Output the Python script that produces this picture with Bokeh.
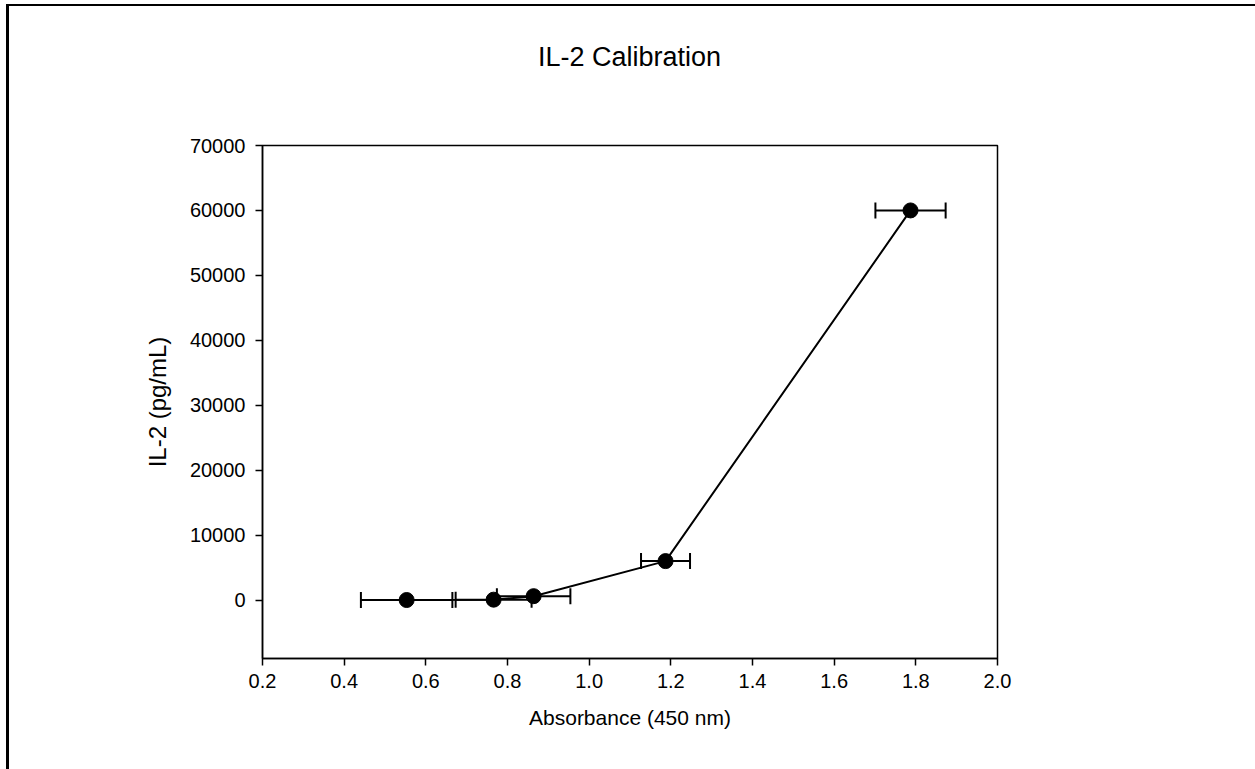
from bokeh.plotting import figure
from bokeh.models import ColumnDataSource, Whisker, TeeHead, FixedTicker, Div
from bokeh.layouts import column
from bokeh.embed import file_html
from bokeh.resources import INLINE

# Standard curve: mean absorbance at 450 nm vs. IL-2 concentration
absorbance = [0.553, 0.766, 0.864, 1.187, 1.787]
absorbance_err = [0.112, 0.093, 0.090, 0.060, 0.086]
il2_conc = [6, 60, 600, 6000, 60000]

x_ticks = [0.2, 0.4, 0.6, 0.8, 1.0, 1.2, 1.4, 1.6, 1.8, 2.0]
y_ticks = [0, 10000, 20000, 30000, 40000, 50000, 60000, 70000]

FONT = "Liberation Sans"

src = ColumnDataSource(dict(
    x=absorbance,
    y=il2_conc,
    lower=[a - e for a, e in zip(absorbance, absorbance_err)],
    upper=[a + e for a, e in zip(absorbance, absorbance_err)],
))

# title row above the plot
title = Div(
    text="IL-2 Calibration", width=1231, height=92,
    styles={"font-family": FONT, "font-size": "27px", "color": "black",
            "text-align": "center", "line-height": "92px"},
)

p = figure(
    width=1246, height=661,
    frame_width=735, frame_height=513,
    min_border_left=253, min_border_top=37,
    min_border_right=258, min_border_bottom=111,
    x_range=(0.2, 2.0), y_range=(-9000, 70000),
    output_backend="svg", toolbar_location=None,
    title=None,
)

p.background_fill_color = "white"
p.border_fill_color = "white"
p.outline_line_color = "black"
p.outline_line_width = 1.5
p.xgrid.visible = False
p.ygrid.visible = False

for ax in (p.xaxis[0], p.yaxis[0]):
    ax.axis_line_color = "black"
    ax.axis_line_width = 1.5
    ax.major_tick_line_color = "black"
    ax.major_tick_line_width = 1.5
    ax.major_tick_out = 7
    ax.major_tick_in = 0
    ax.minor_tick_line_color = None
    ax.major_label_text_font = FONT
    ax.major_label_text_font_size = "20px"
    ax.major_label_text_color = "black"
    ax.axis_label_text_font = FONT
    ax.axis_label_text_font_style = "normal"
    ax.axis_label_text_color = "black"

p.xaxis.ticker = FixedTicker(ticks=x_ticks)
p.xaxis.major_label_overrides = {t: f"{t:.1f}" for t in x_ticks}
p.yaxis.ticker = FixedTicker(ticks=y_ticks)
p.yaxis.major_label_overrides = {t: str(t) for t in y_ticks}
p.xaxis.axis_label = "Absorbance (450 nm)"
p.yaxis.axis_label = "IL-2 (pg/mL)"
p.xaxis.axis_label_text_font_size = "21px"
p.yaxis.axis_label_text_font_size = "24px"
p.xaxis.major_label_standoff = 8
p.yaxis.major_label_standoff = 10
p.xaxis.axis_label_standoff = 15
p.yaxis.axis_label_standoff = 16

# horizontal error bars on absorbance
p.add_layout(Whisker(
    source=src, base="y", lower="lower", upper="upper", dimension="width",
    line_color="black", line_width=2,
    upper_head=TeeHead(size=16, line_color="black", line_width=2),
    lower_head=TeeHead(size=16, line_color="black", line_width=2),
))

p.line("x", "y", source=src, line_color="black", line_width=2)
p.scatter("x", "y", source=src, size=15, marker="circle",
          fill_color="black", line_color="black")

layout = column(title, p, spacing=0, styles={
    "border-left": "3px solid black",
    "border-top": "2px solid black",
    "margin-left": "6px",
    "margin-top": "4px",
})

open("out.html", "w").write(file_html(layout, INLINE))
